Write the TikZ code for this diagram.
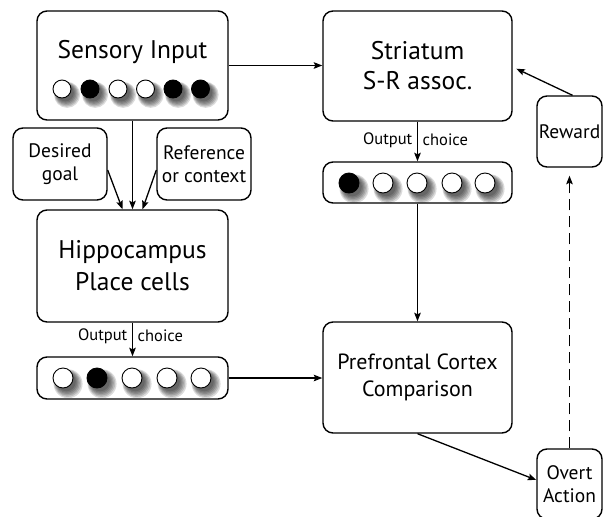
\documentclass[tikz,border=0pt]{standalone}
\usepackage{fontspec}
\setmainfont{PT Sans}
\usetikzlibrary{arrows.meta,shadows,calc}
\begin{document}
\begin{tikzpicture}[x=1pt,y=-1pt,
  box/.style={draw,line width=1.4pt,rounded corners=10pt,inner sep=0pt,align=center},
  bigA/.style={font=\fontsize{25.5}{31}\selectfont},
  bigB/.style={font=\fontsize{22}{27}\selectfont},
  small/.style={font=\fontsize{19.5}{23.5}\selectfont},
  tiny/.style={font=\fontsize{16.5}{18}\selectfont,inner sep=0pt},
  arr/.style={line width=1.3pt,-{Stealth[length=8.5pt,width=6.5pt,inset=1.5pt]}},
  sh/.style={general shadow={shadow xshift=3.5pt,shadow yshift=-4pt,shadow scale=#1,fill=black,opacity=.14,draw=none}},
  neuron/.style={circle,draw,line width=0.9pt,inner sep=0pt,minimum size=#1,
     sh=1.45,sh=1.35,sh=1.25,sh=1.15,sh=1.05,sh=0.95},
  on/.style={neuron=#1,fill=black},
  off/.style={neuron=#1,fill=white}
]
\useasboundingbox (0,0) rectangle (603,517);
% boxes
\node[box,minimum width=191pt,minimum height=109pt] (sens) at (132.5,65.5) {};
\node[bigA,inner sep=0pt] (senst) at (132.5,52.5) {Sensory Input};
\node[box,minimum width=94pt,minimum height=72pt,small] (goal) at (60,164) {Desired\\goal};
\node[box,minimum width=94pt,minimum height=72pt,small] (ref) at (204,164) {Reference\\or context};
\node[box,minimum width=191pt,minimum height=112pt,bigA,font=\fontsize{25.5}{32}\selectfont] (hippo) at (132.5,266) {Hippocampus\\Place cells};
\node[box,minimum width=191pt,minimum height=42pt] (hbar) at (132.5,378) {};
\node[box,minimum width=189pt,minimum height=110pt,bigA,font=\fontsize{25.5}{30}\selectfont] (stri) at (417.5,66) {Striatum\\S-R assoc.};
\node[box,minimum width=189pt,minimum height=41pt] (sbar) at (417.5,182.5) {};
\node[box,minimum width=189pt,minimum height=111pt,bigB] (pfc) at (417.5,377.5) {Prefrontal Cortex\\Comparison};
\node[box,minimum width=65pt,minimum height=71pt,small] (rew) at (569.5,131.5) {Reward};
\node[box,minimum width=65pt,minimum height=70pt,small,font=\fontsize{19.5}{22.5}\selectfont] (overt) at (569.5,484) {Overt\\Action};
% neurons
\node[off=18pt] (s1) at (62,89) {};
\node[on=18pt]  (s2) at (90,89) {};
\node[off=18pt] (s3) at (118,89) {};
\node[off=18pt] (s4) at (145.5,89) {};
\node[on=18pt]  (s5) at (173,89) {};
\node[on=18pt]  (s6) at (200.5,89) {};
\node[off=20pt] (h1) at (63,378) {};
\node[on=20pt]  (h2) at (97,378) {};
\node[off=20pt] (h3) at (132,378) {};
\node[off=20pt] (h4) at (167,378) {};
\node[off=20pt] (h5) at (201,378) {};
\node[on=20pt]  (r1) at (349,183) {};
\node[off=20pt] (r2) at (383,183) {};
\node[off=20pt] (r3) at (417,183) {};
\node[off=20pt] (r4) at (452,183) {};
\node[off=20pt] (r5) at (485,183) {};
% labels
\node[tiny,anchor=east] (ho) at (127.5,336) {Output};
\node[tiny,anchor=west] (hc) at (137.5,336) {choice};
\node[tiny,anchor=east] (so) at (412.5,140) {Output};
\node[tiny,anchor=west] (sc) at (422.5,140) {choice};
% connectors
\draw[arr] (sens.east) -- (sens.east -| stri.west);
\draw[arr] (sens.south) -- (hippo.north);
\draw[arr] ([yshift=-6pt]goal.east) -- ([xshift=-10pt]hippo.north);
\draw[arr] ([yshift=-6pt]ref.west) -- ([xshift=10pt]hippo.north);
\draw[arr] (hippo.south) -- (hbar.north);
\draw[arr] (hbar.east) -- (hbar.east -| pfc.west);
\draw[arr] (stri.south) -- (sbar.north);
\draw[arr] (sbar.south) -- (pfc.north);
\draw[arr] (pfc.south) -- ([yshift=4pt]overt.west);
\draw[arr,dash pattern=on 11pt off 6pt,shorten >=8pt] (overt.north) -- (rew.south);
\draw[arr,shorten >=4pt] ([xshift=3pt]rew.north) -- ([yshift=-1pt]stri.east);
\end{tikzpicture}
\end{document}
